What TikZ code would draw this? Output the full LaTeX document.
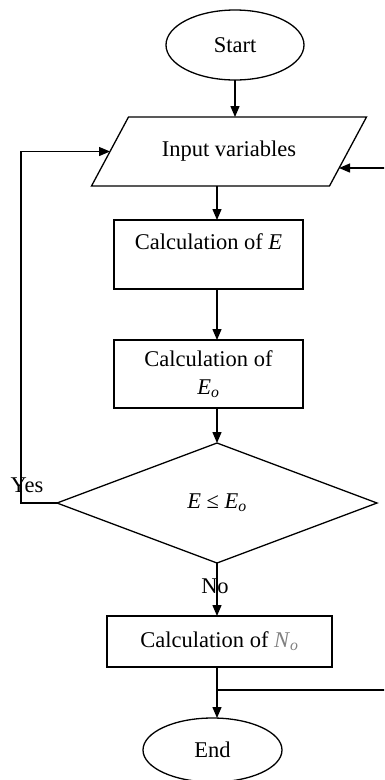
\documentclass[tikz,border=0pt]{standalone}
\usepackage{fontspec}
\setmainfont{Liberation Serif}
\usepackage{tikz}
\usetikzlibrary{arrows.meta,calc,positioning,shapes.geometric}

\definecolor{nogray}{RGB}{128,128,128}
\newcommand{\Eo}{\textit{E}\textsubscript{\textit{o}}}
\tikzset{
  flow/.style={draw,line width=1.3pt,font=\fontsize{22.5}{28}\selectfont,inner sep=4pt,outer sep=0pt},
  term/.style={flow,ellipse,minimum width=138pt,minimum height=70pt},
  inbox/.style={flow,draw=none,rectangle,minimum width=238pt,minimum height=69pt},
  procbox/.style={flow,rectangle,align=center},
  testbox/.style={flow,diamond,aspect=2.67,minimum width=320pt,minimum height=120pt},
  conn/.style={line width=1.3pt,->},
  lbl/.style={font=\fontsize{22.5}{28}\selectfont,inner sep=0pt}
}

\begin{document}
\begin{tikzpicture}[x=1pt,y=-1pt,>={Triangle[length=11pt,width=9pt]}]
  \useasboundingbox (0,0) rectangle (384,780);
  \clip (0,0) rectangle (384,780);
  \coordinate (col) at (217,0);
  \node[term] (start) at (235,45) {Start};
  \node[inbox] (input) at (229,151.5) {Input variables};
  % parallelogram round the input node
  \draw[line width=1.3pt] ($(input.north west)+(18.5,0)$) -- ($(input.north east)+(18.5,0)$)
    -- ($(input.south east)+(-18.5,0)$) -- ($(input.south west)+(-18.5,0)$) -- cycle;
  \node[procbox,minimum width=189pt,text height=25pt,text depth=36pt] (calcE) at (208.5,254.5) {Calculation of \textit{E}};
  \node[procbox,minimum width=189pt,minimum height=68pt] (calcEo) at (208.5,374) {Calculation of\\\Eo};
  \node[testbox] (test) at (217,503) {\textit{E} ≤ \Eo};
  \node[procbox,minimum width=225pt,minimum height=51pt] (calcNo) at (219.5,641.5) {Calculation of \textcolor{nogray}{\textit{N}\textsubscript{\textit{o}}}};
  \node[term,minimum width=139pt,minimum height=64pt] (stop) at (212.5,750) {End};
  \coordinate (yescorner) at (21,503);
  \coordinate (split) at ($(calcNo.south -| col)+(0,23)$);
  \coordinate (backcorner) at (386,690);
  \draw[conn] (start) -- (input.north -| start);
  \draw[conn] (input.south -| col) -- (calcE.north -| col);
  \draw[conn] (calcE.south -| col) -- (calcEo.north -| col);
  \draw[conn] (calcEo.south -| col) -- (test.north);
  \draw[conn] (test.south) -- (calcNo.north -| col);
  \draw[conn] (calcNo.south -| col) -- (stop.north -| col);
  \draw[conn] (test.west) -- (yescorner) |- (input.west);
  \draw[line width=1.3pt] (split) -- (backcorner) -- (386,168);
  \draw[conn] (386,168) -- ($(input.east)+(-9,16.5)$);
  \node[lbl,anchor=base] (yes) at (27,492) {Yes};
  \node[lbl,anchor=base] (no) at (215,593) {No};
\end{tikzpicture}
\end{document}
